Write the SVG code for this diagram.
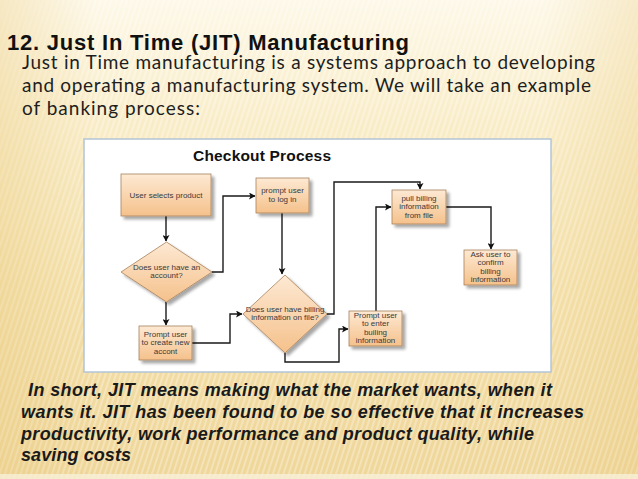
<svg xmlns="http://www.w3.org/2000/svg" width="638" height="479" viewBox="0 0 638 479">
<defs>
  <linearGradient id="bg" x1="0" y1="0" x2="0" y2="1">
    <stop offset="0" stop-color="#fdf8e8"/>
    <stop offset="0.25" stop-color="#f9edc9"/>
    <stop offset="0.6" stop-color="#f4e0aa"/>
    <stop offset="1" stop-color="#efd699"/>
  </linearGradient>
  <linearGradient id="side" x1="0" y1="0" x2="1" y2="0">
    <stop offset="0" stop-color="#e9c97c" stop-opacity="0.35"/>
    <stop offset="0.15" stop-color="#e9c97c" stop-opacity="0"/>
    <stop offset="0.85" stop-color="#e9c97c" stop-opacity="0"/>
    <stop offset="1" stop-color="#e9c97c" stop-opacity="0.3"/>
  </linearGradient>
  <pattern id="stripes" width="5" height="10" patternUnits="userSpaceOnUse" patternTransform="rotate(18)">
    <rect x="0" y="0" width="2" height="10" fill="#ffffff" fill-opacity="0.3"/>
  </pattern>
  <linearGradient id="node" x1="0" y1="0" x2="0" y2="1">
    <stop offset="0" stop-color="#fde9d3"/>
    <stop offset="1" stop-color="#f5c18b"/>
  </linearGradient>
  <filter id="shadow" x="-20%" y="-20%" width="150%" height="150%">
    <feGaussianBlur in="SourceAlpha" stdDeviation="1.5"/>
    <feOffset dx="3" dy="3" result="b"/>
    <feComponentTransfer><feFuncA type="linear" slope="0.35"/></feComponentTransfer>
    <feMerge><feMergeNode/><feMergeNode in="SourceGraphic"/></feMerge>
  </filter>
  <marker id="arr" markerWidth="7" markerHeight="7" refX="6" refY="3.5" orient="auto" markerUnits="userSpaceOnUse">
    <path d="M0,0 L6.5,3.5 L0,7 L1.5,3.5 z" fill="#111"/>
  </marker>
  <style>
    .shape { fill: url(#node); stroke: #a7825c; stroke-width: 0.8; filter: url(#shadow); }
    .lbl { font-family: "Liberation Sans", Arial, sans-serif; font-size: 8px; fill: #3a3a3a; text-anchor: middle; }
    .conn { fill: none; stroke: #1a1a1a; stroke-width: 1.4; marker-end: url(#arr); }
    .body { font-family: Lato, "Liberation Sans", sans-serif; font-size: 19px; fill: #1e1e1e; }
    .note { font-family: "Liberation Sans", Arial, sans-serif; font-size: 18px; font-weight: bold; font-style: italic; fill: #1a1a1a; }
  </style>
</defs>

<rect x="0" y="0" width="638" height="479" fill="url(#bg)"/>
<rect x="0" y="0" width="638" height="479" fill="url(#stripes)"/>
<rect x="0" y="0" width="638" height="479" fill="url(#side)"/>
<rect x="0" y="474" width="638" height="5" fill="#f8f0d8" fill-opacity="0.8"/>

<text x="7" y="50" font-family="Liberation Sans, Arial, sans-serif" font-size="22" font-weight="bold" fill="#111" textLength="402">12. Just In Time (JIT) Manufacturing</text>
<text class="body" x="22" y="69" textLength="573">Just in Time manufacturing is a systems approach to developing</text>
<text class="body" x="22" y="92" textLength="569">and operating a manufacturing system. We will take an example</text>
<text class="body" x="22" y="115" textLength="178">of banking process:</text>

<g id="panel">
  <rect x="84" y="139" width="467" height="233" fill="#ffffff" stroke="#b3c5d6" stroke-width="1.5"/>
  <text x="193" y="161" font-family="Liberation Sans, Arial, sans-serif" font-size="15.5" font-weight="bold" fill="#111" textLength="138">Checkout Process</text>
</g>

<g id="connectors">
  <path class="conn" d="M166,216 V241"/>
  <path class="conn" d="M212,272 H223 V196 H255"/>
  <path class="conn" d="M282,213 V274"/>
  <path class="conn" d="M166,302 V325"/>
  <path class="conn" d="M192,343 H230 V314 H242"/>
  <path class="conn" d="M327,314 H334 V182 H420 V189"/>
  <path class="conn" d="M285,353 V362 H339 V329 H348"/>
  <path class="conn" d="M376,311 V207 H391"/>
  <path class="conn" d="M446,207 H491 V249"/>
</g>

<g id="n-select">
  <rect class="shape" x="121" y="174" width="90" height="42"/>
  <text class="lbl" x="166" y="198">User selects product</text>
</g>
<g id="n-login">
  <rect class="shape" x="256" y="178" width="53" height="35"/>
  <text class="lbl" x="282.5" y="193">prompt user</text>
  <text class="lbl" x="282.5" y="201.5">to log in</text>
</g>
<g id="n-pull">
  <rect class="shape" x="392" y="190" width="54" height="34"/>
  <text class="lbl" x="419" y="200.5">pull billing</text>
  <text class="lbl" x="419" y="209">information</text>
  <text class="lbl" x="419" y="217.5">from file</text>
</g>
<g id="n-confirm">
  <rect class="shape" x="464" y="250" width="53" height="35"/>
  <text class="lbl" x="490.5" y="256.5">Ask user to</text>
  <text class="lbl" x="490.5" y="265">confirm</text>
  <text class="lbl" x="490.5" y="273.5">billing</text>
  <text class="lbl" x="490.5" y="282">information</text>
</g>
<g id="n-account-q">
  <polygon class="shape" points="166.5,242 212,272 166.5,302 121,272"/>
  <text class="lbl" x="166.5" y="269.5">Does user have an</text>
  <text class="lbl" x="166.5" y="278">account?</text>
</g>
<g id="n-billing-q">
  <polygon class="shape" points="285,275 327,314 285,353 243,314"/>
  <text class="lbl" x="285" y="311.5">Does user have billing</text>
  <text class="lbl" x="285" y="320">information on file?</text>
</g>
<g id="n-create">
  <rect class="shape" x="139" y="326" width="53" height="34"/>
  <text class="lbl" x="165.5" y="336.5">Prompt user</text>
  <text class="lbl" x="165.5" y="345">to create new</text>
  <text class="lbl" x="165.5" y="353.5">accont</text>
</g>
<g id="n-enter">
  <rect class="shape" x="349" y="311" width="53" height="35"/>
  <text class="lbl" x="375.5" y="317.5">Prompt user</text>
  <text class="lbl" x="375.5" y="326">to enter</text>
  <text class="lbl" x="375.5" y="334.5">builing</text>
  <text class="lbl" x="375.5" y="343">information</text>
</g>

<text class="note" x="28" y="396" textLength="524"> In short, JIT means making what the market wants, when it</text>
<text class="note" x="21" y="418" textLength="563">wants it. JIT has been found to be so effective that it increases</text>
<text class="note" x="21" y="440" textLength="513">productivity, work performance and product quality, while</text>
<text class="note" x="21" y="461" textLength="110">saving costs</text>
</svg>
